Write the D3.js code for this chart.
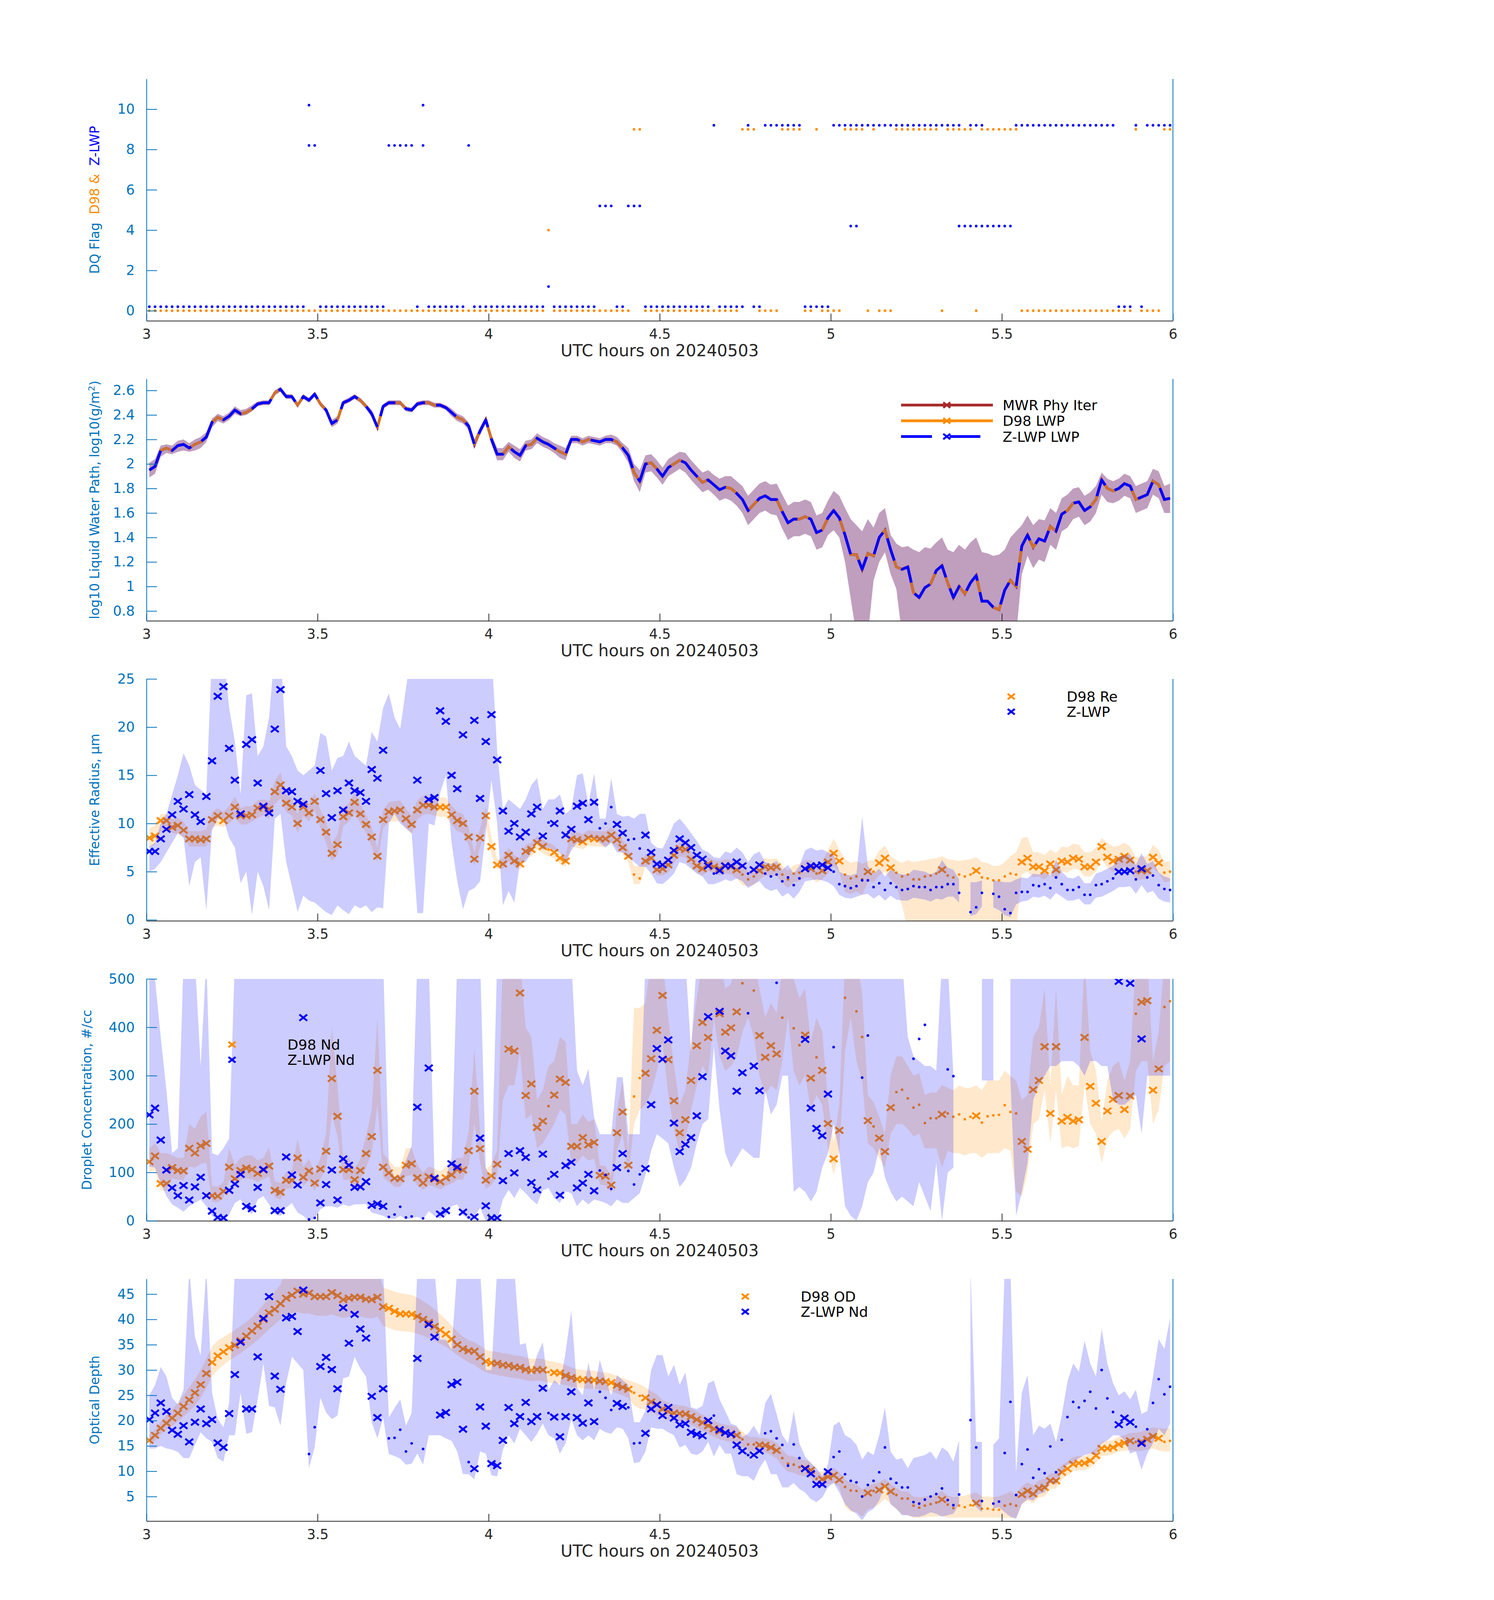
<!DOCTYPE html>
<html>
<head>
<meta charset="utf-8">
<script src="https://cdn.jsdelivr.net/npm/d3@7"></script>
<style>
  body { margin: 0; background: #fff; }
  svg { display: block; }
</style>
</head>
<body>
<svg id="fig"></svg>
<script>
// ---- one sample per minute, 03:00 - 06:00 UTC ----
const N = 180;
const hours = d3.range(N).map((i) => 3 + (i + 0.5) / 60);
const xTicks = [3, 3.5, 4, 4.5, 5, 5.5, 6];

// ---- panel 1: data quality flags ----
const d98Flag = [
  0,0,0,0,0,0,0,0,0,0, 0,0,0,0,0,0,0,0,0,0, 0,0,0,0,0,0,0,0,0,0,
  0,0,0,0,0,0,0,0,0,0, 0,0,0,0,0,0,0,0,0,0, 0,0,0,0,0,0,0,0,0,0,
  0,0,0,0,0,0,0,0,0,0, 4,0,0,0,0,0,0,0,0,0, 0,0,0,0,0,9,9,0,0,0,
  0,0,0,0,0,0,0,0,0,0, 0,0,0,0,9,9,9,0,0,0, 0,9,9,9,9,0,0,9,0,0,
  0,0,9,9,9,9,0,9,0,0, 0,9,9,9,9,9,9,9,9,0, 9,9,9,9,9,0,9,9,9,9,
  9,9,9,0,0,0,0,0,0,0, 0,0,0,0,0,0,0,0,0,0, 0,0,0,9,0,0,0,0,9,9
];
const zFlag = [
  0,0,0,0,0,0,0,0,0,0, 0,0,0,0,0,0,0,0,0,0, 0,0,0,0,0,0,0,0,10,8,
  0,0,0,0,0,0,0,0,0,0, 0,0,8,8,8,8,8,0,10,0, 0,0,0,0,0,0,8,0,0,0,
  0,0,0,0,0,0,0,0,0,0, 1,0,0,0,0,0,0,0,0,5, 5,5,0,0,5,5,5,0,0,0,
  0,0,0,0,0,0,0,0,0,9, 0,0,0,0,0,9,0,0,9,9, 9,9,9,9,9,0,0,0,0,0,
  9,9,9,4,4,9,9,9,9,9, 9,9,9,9,9,9,9,9,9,9, 9,9,4,4,4,4,4,4,4,4,
  4,4,9,9,9,9,9,9,9,9, 9,9,9,9,9,9,9,9,9,9, 0,0,0,9,0,9,9,9,9,9
];
const zExtraIdx = [28, 48, 123, 124, 142, 144, 145, 146];
const zExtraFlag = [8, 8, 9, 9, 9, 9, 9, 9];

// ---- panel 2: log10 LWP (the three retrievals coincide) ----
const lwp = [
  1.95,1.98,2.11,2.13,2.11,2.15,2.16,2.13,2.16,2.18, 2.22,2.34,2.38,2.36,2.39,2.44,2.41,2.42,2.45,2.49,
  2.50,2.50,2.58,2.61,2.55,2.55,2.48,2.55,2.52,2.57, 2.49,2.44,2.33,2.36,2.50,2.52,2.55,2.52,2.47,2.41,
  2.30,2.47,2.50,2.50,2.50,2.45,2.44,2.49,2.50,2.50, 2.48,2.48,2.46,2.42,2.38,2.36,2.31,2.16,2.27,2.36,
  2.20,2.08,2.08,2.14,2.10,2.07,2.15,2.16,2.21,2.18, 2.16,2.13,2.10,2.08,2.20,2.20,2.18,2.20,2.19,2.18,
  2.20,2.20,2.18,2.13,2.07,1.93,1.86,2.00,2.01,1.96, 1.90,1.97,2.00,2.03,2.01,1.95,1.90,1.85,1.87,1.83,
  1.79,1.81,1.80,1.76,1.71,1.62,1.67,1.72,1.74,1.71, 1.71,1.61,1.52,1.55,1.55,1.57,1.55,1.44,1.46,1.56,
  1.62,1.56,1.42,1.26,1.26,1.14,1.27,1.25,1.40,1.46, 1.30,1.16,1.14,1.16,0.95,0.91,0.99,1.02,1.13,1.17,
  1.03,0.91,1.00,0.94,1.03,1.09,0.88,0.88,0.83,0.81, 0.97,1.05,1.00,1.33,1.42,1.32,1.39,1.37,1.49,1.45,
  1.59,1.62,1.68,1.69,1.62,1.65,1.71,1.87,1.80,1.78, 1.80,1.84,1.82,1.71,1.73,1.75,1.86,1.83,1.71,1.72
];
const lwpLo = [
  1.89,1.92,2.06,2.09,2.08,2.10,2.11,2.10,2.11,2.13, 2.18,2.30,2.35,2.33,2.36,2.41,2.39,2.40,2.43,2.47,
  2.48,2.48,2.56,2.59,2.53,2.53,2.46,2.53,2.50,2.55, 2.47,2.42,2.30,2.33,2.48,2.50,2.53,2.50,2.45,2.38,
  2.27,2.45,2.48,2.48,2.48,2.43,2.42,2.47,2.48,2.48, 2.46,2.46,2.44,2.39,2.35,2.33,2.28,2.12,2.24,2.33,
  2.16,2.03,2.03,2.10,2.05,2.02,2.11,2.12,2.17,2.14, 2.12,2.09,2.05,2.03,2.17,2.17,2.15,2.17,2.16,2.15,
  2.17,2.17,2.15,2.09,2.01,1.86,1.77,1.93,1.94,1.89, 1.83,1.90,1.93,1.96,1.93,1.87,1.82,1.77,1.79,1.75,
  1.70,1.72,1.70,1.66,1.60,1.50,1.55,1.60,1.62,1.59, 1.58,1.47,1.38,1.41,1.41,1.43,1.41,1.30,1.32,1.42,
  1.46,1.40,1.20,0.90,0.60,0.60,0.60,1.05,1.20,1.28, 1.10,0.98,0.60,0.60,0.60,0.60,0.60,0.60,0.60,0.60,
  0.60,0.60,0.60,0.60,0.60,0.60,0.60,0.60,0.60,0.60, 0.60,0.60,0.60,1.10,1.25,1.15,1.22,1.20,1.34,1.30,
  1.45,1.48,1.55,1.57,1.50,1.53,1.60,1.75,1.69,1.68, 1.70,1.74,1.72,1.60,1.62,1.64,1.75,1.72,1.60,1.60
];
const lwpHi = [
  2.01,2.04,2.15,2.16,2.15,2.19,2.20,2.17,2.20,2.22, 2.26,2.37,2.41,2.39,2.42,2.47,2.44,2.45,2.48,2.51,
  2.52,2.52,2.60,2.63,2.57,2.57,2.50,2.57,2.54,2.59, 2.51,2.46,2.36,2.39,2.52,2.54,2.57,2.54,2.49,2.44,
  2.33,2.49,2.52,2.52,2.52,2.47,2.46,2.51,2.52,2.52, 2.50,2.50,2.48,2.45,2.41,2.39,2.34,2.20,2.30,2.39,
  2.24,2.13,2.13,2.18,2.15,2.12,2.19,2.20,2.25,2.22, 2.20,2.17,2.15,2.13,2.23,2.23,2.21,2.23,2.22,2.21,
  2.23,2.24,2.22,2.17,2.13,2.00,1.95,2.07,2.08,2.03, 1.97,2.04,2.07,2.10,2.09,2.03,1.98,1.93,1.95,1.91,
  1.88,1.90,1.90,1.86,1.82,1.74,1.79,1.84,1.86,1.83, 1.84,1.75,1.66,1.69,1.69,1.71,1.69,1.58,1.60,1.70,
  1.78,1.74,1.64,1.55,1.50,1.45,1.55,1.48,1.60,1.64, 1.42,1.35,1.32,1.33,1.30,1.28,1.32,1.31,1.36,1.40,
  1.30,1.28,1.34,1.30,1.36,1.40,1.28,1.27,1.25,1.26, 1.30,1.40,1.45,1.50,1.58,1.50,1.55,1.54,1.64,1.60,
  1.72,1.75,1.80,1.81,1.74,1.77,1.82,1.93,1.88,1.86, 1.88,1.92,1.90,1.82,1.84,1.86,1.96,1.94,1.82,1.84
];

// ---- panel 3: effective radius (um) ----
const reD98 = [
  8.5,8.7,10.3,10.3,9.6,9.8,9.3,8.4,8.4,8.3, 8.4,10.4,10.8,10.3,10.8,11.7,10.8,10.8,10.9,11.6,
  11.7,11.5,13.3,14.0,12.1,11.7,10.0,11.7,11.1,12.3, 10.4,9.1,6.9,7.8,10.7,11.1,12.2,11.0,9.9,8.6,
  6.6,10.4,11.2,11.3,11.4,10.5,9.9,11.4,11.9,11.9, 11.7,11.7,11.7,10.9,10.3,10.0,8.6,6.3,8.5,10.8,
  7.6,5.7,5.8,6.7,6.1,5.8,7.1,7.3,8.0,7.6, 7.3,7.0,6.4,6.1,8.4,8.3,8.1,8.5,8.4,8.4,
  8.4,8.8,8.3,7.5,6.6,4.7,4.3,6.1,6.4,5.2, 5.3,5.7,6.7,7.4,7.3,6.3,5.6,5.3,5.8,5.5,
  5.3,5.6,5.5,5.2,4.7,4.2,4.5,5.1,5.5,5.4, 5.5,4.7,4.2,4.8,4.9,5.3,5.3,4.8,5.1,6.0,
  6.9,6.1,4.7,4.3,4.5,4.2,5.0,5.0,5.9,6.4, 5.4,4.9,4.5,4.7,4.2,4.2,4.5,4.6,4.8,5.2,
  4.6,4.4,4.7,4.5,4.7,5.1,4.4,4.3,4.1,4.1, 4.5,4.8,4.7,6.0,6.4,5.5,5.5,5.1,5.8,5.2,
  6.1,6.0,6.4,6.3,5.5,5.5,6.0,7.6,6.5,6.1, 6.3,6.6,6.2,5.0,5.1,5.1,6.5,5.9,4.9,5.0
];
const reZ = [
  7.1,7.1,8.4,9.4,10.9,12.3,11.5,13.0,10.9,10.2, 12.8,16.5,23.2,24.2,17.8,14.5,11.0,18.2,18.7,14.2,
  11.8,11.1,19.8,23.9,13.4,13.3,12.3,12.0,null,null, 15.5,13.1,10.6,13.4,11.4,14.2,13.4,13.2,12.3,15.6,
  14.7,17.6,null,null,null,null,null,14.5,null,12.5, 12.7,21.7,20.6,15.0,13.6,19.2,null,20.7,12.6,18.5,
  21.3,16.6,11.3,9.2,10.0,8.6,9.1,11.0,11.7,8.7, 10.1,10.0,11.3,8.8,9.4,11.8,12.1,10.4,12.2,9.5,
  10.0,11.7,9.9,9.0,8.3,8.4,7.4,8.8,7.0,5.8, 5.7,6.2,7.2,8.4,8.0,7.5,6.7,6.3,5.6,4.8,
  5.1,5.6,5.6,6.0,5.6,4.8,5.2,5.7,4.8,4.5, 4.7,4.0,4.4,3.6,4.3,5.3,5.6,5.6,5.7,5.4,
  5.0,3.7,3.5,3.3,3.5,4.1,4.1,3.4,3.8,3.1, 3.8,3.4,3.1,3.2,3.5,3.4,3.4,3.1,3.4,3.4,
  3.7,3.7,2.8,null,0.8,1.3,2.8,null,2.7,2.4, 1.1,0.7,2.8,2.9,2.9,3.6,3.5,3.7,3.3,4.4,
  3.7,3.1,3.1,3.4,2.6,2.6,3.6,3.7,4.0,4.3, 5.0,5.0,5.1,4.2,5.3,4.4,4.6,3.6,3.2,3.1
];
const reD98Lo = [
  7.5,7.8,9.2,9.5,9.0,8.9,8.6,7.6,7.6,7.6, 7.6,9.6,9.8,9.6,10.0,10.6,9.9,9.9,10.2,10.6,
  10.8,10.5,12.0,12.6,11.2,10.8,9.0,10.8,10.2,11.4, 9.5,8.0,6.1,6.8,9.7,10.2,11.2,10.0,9.0,7.6,
  6.0,9.5,10.2,10.2,10.3,9.5,8.9,10.4,10.9,11.0, 10.8,10.7,10.7,9.9,9.2,9.0,7.7,5.6,7.5,9.8,
  6.8,5.3,5.3,6.1,5.6,5.2,6.4,6.6,7.3,6.9, 6.6,6.4,5.8,5.5,7.6,7.5,7.3,7.7,7.6,7.6,
  7.6,8.0,7.5,6.8,6.0,3.7,3.7,5.5,5.8,4.6, 4.6,4.9,5.9,6.6,6.5,5.6,4.9,4.6,5.1,4.8,
  4.6,4.8,4.7,4.3,3.6,3.5,3.6,4.2,4.6,4.5, 4.6,3.8,3.3,3.9,4.0,4.4,4.4,3.9,4.2,4.8,
  5.6,4.9,2.9,2.7,2.9,2.6,3.9,3.9,4.6,5.0, 4.2,3.6,1.5,-1,-1,-1,-1,-1,-1,-1,
  -1,-1,-1,-1,-1,-1,-1,-1,-1,-1, -1,-1,-1,4.7,5.0,4.4,4.5,4.2,4.7,4.2,
  5.0,4.9,5.3,5.2,4.5,4.5,5.0,6.3,5.4,5.0, 5.2,5.5,5.1,4.1,4.2,4.2,5.4,4.8,3.9,4.0
];
const reD98Hi = [
  9.5,9.8,11.0,11.0,10.4,10.6,10.2,9.2,9.2,9.2, 9.4,11.2,11.6,11.2,11.8,12.8,11.6,11.8,11.8,12.4,
  12.5,12.3,14.4,15.3,13.0,12.6,11.0,12.6,12.0,13.2, 11.4,10.2,7.9,8.9,11.7,12.1,13.2,12.0,10.9,9.6,
  7.4,11.4,12.2,12.3,12.4,11.5,10.9,12.4,12.9,12.9, 12.8,12.7,12.7,11.9,11.2,11.0,9.6,7.0,9.5,11.8,
  8.6,6.3,6.4,7.5,6.7,6.4,7.8,8.0,8.7,8.3, 8.0,7.7,7.0,6.7,9.2,9.1,8.9,9.3,9.2,9.2,
  9.2,9.6,9.1,8.3,7.3,5.6,5.6,6.8,7.0,5.8, 6.0,6.6,7.4,8.2,8.1,7.0,6.3,6.0,6.5,6.2,
  6.1,6.3,6.2,6.1,5.8,5.0,5.4,6.0,6.4,6.3, 6.4,5.6,5.1,5.7,5.8,6.2,6.2,5.7,6.0,7.2,
  8.4,7.3,6.3,5.9,6.1,5.8,6.1,6.2,7.2,7.7, 6.6,6.2,5.9,6.2,6.0,6.1,6.2,6.3,6.4,6.6,
  6.3,6.2,6.1,6.2,6.3,6.5,6.0,5.9,5.6,5.6, 6.0,6.6,7.0,8.5,8.6,7.0,7.0,6.7,7.3,6.9,
  7.6,7.5,7.9,7.8,7.0,7.0,7.5,8.5,8.0,7.6, 7.7,8.0,7.6,6.5,6.6,6.6,7.8,7.2,6.0,6.1
];
const reZLo = [
  5.0,5.3,6.0,7.0,8.0,9.0,8.5,3.5,6.0,6.5, 1.0,9.3,10.5,10.5,8.5,7.5,3.8,5.0,0.5,5.0,
  3.5,1.0,10.5,11.0,6.0,3.5,0.8,2.5,2.0,1.8, 1.3,0.8,0.5,1.5,1.0,0.6,1.5,1.2,1.5,0.8,
  1.3,1.2,10.0,11.0,10.0,9.5,9.0,0.7,0.7,10.0, 9.8,13.2,15.0,8.0,4.0,1.1,3.0,3.3,4.0,9.0,
  14.5,10.0,1.5,3.0,1.8,6.0,6.0,7.0,8.0,7.3, 7.5,7.2,7.0,6.0,7.2,8.0,8.0,8.5,8.5,8.0,
  7.5,8.0,7.0,7.0,6.5,6.0,5.5,5.5,4.8,3.8, 3.7,4.2,4.8,6.0,5.8,5.3,4.8,4.5,3.7,3.7,
  3.9,4.2,4.0,4.3,4.0,3.3,3.7,4.0,3.3,3.0, 3.2,2.4,2.8,2.2,2.9,4.0,4.1,4.2,4.1,3.9,
  3.5,2.6,2.3,2.2,2.4,2.6,2.7,2.2,2.6,2.0, 2.5,2.1,2.0,2.0,2.3,2.2,2.1,1.9,2.2,2.1,
  2.4,2.4,1.8,null,0.4,0.6,1.4,null,1.3,1.0, 0.5,0.3,1.6,1.9,2.0,2.4,2.3,2.5,2.1,2.8,
  2.4,2.0,2.0,2.2,1.6,1.6,2.3,2.4,2.7,3.0, 3.4,3.4,3.5,2.7,3.6,2.8,3.0,2.2,1.9,1.8
];
const reZHi = [
  7.6,8.0,10.0,11.0,13.0,15.0,17.3,16.0,14.0,13.5, 13.0,28,28,28,22.0,18.5,13.0,23.3,23.5,17.0,
  18.0,21.0,28,28,18.0,17.0,15.5,15.0,15.5,16.0, 19.4,19.0,15.5,16.8,17.0,18.5,17.0,16.5,16.0,19.5,
  18.5,22.0,23.5,21.0,19.8,24.0,28,28,28,28, 28,28,28,28,27.5,25.0,28,28,28,28,
  28,17.5,11.5,12.5,12.0,11.5,12.5,14.0,14.7,11.5, 12.5,12.5,13.0,11.0,11.5,15.0,15.2,12.0,15.2,10.5,
  10.5,14.7,11.0,10.7,10.8,10.5,11.0,11.0,8.0,7.5, 7.4,8.6,10.0,10.5,9.8,9.0,8.2,7.3,7.0,6.5,
  6.4,7.1,6.9,7.5,7.0,6.0,6.8,7.1,6.0,5.8, 6.1,5.2,5.7,4.8,5.6,7.2,7.5,7.2,7.3,7.0,
  6.8,5.0,4.7,4.6,4.8,10.7,5.6,4.8,5.3,4.5, 5.2,4.9,4.7,4.7,5.2,5.1,5.0,4.7,5.0,6.2,
  5.4,5.2,4.2,null,3.9,3.9,4.1,null,4.1,4.0, 3.9,3.9,4.2,4.4,4.3,4.8,4.7,4.9,4.6,6.2,
  5.0,4.4,4.3,4.6,3.8,3.8,4.8,5.0,5.3,5.6, 6.6,6.7,6.8,5.7,6.9,5.8,6.1,4.9,4.5,4.3
];

// ---- panel 4: droplet concentration (#/cc) ----
const ndD98 = [
  122,134,77,77,110,104,103,150,140,155, 160,52,51,61,111,87,104,109,106,98,
  105,113,63,59,84,84,130,90,103,78, 107,144,294,216,106,106,85,104,139,174,
  311,111,99,88,87,115,118,89,78,91, 86,81,89,95,106,105,145,268,149,84,
  93,117,null,355,351,471,259,283,193,206, 237,260,293,286,154,154,172,157,162,94,
  92,74,182,225,115,257,295,305,335,394, 466,333,248,182,209,290,362,410,379,null,
  428,390,399,432,491,null,476,383,338,362, 345,420,null,398,363,384,295,338,311,201,
  128,187,461,null,433,380,207,195,171,143, 234,266,271,253,234,240,202,212,212,220,
  222,215,220,210,215,217,203,216,218,219, 239,225,222,164,148,271,290,360,222,360,
  206,214,206,209,379,278,243,164,227,251, 259,230,258,428,452,455,270,314,442,454
];
const ndZ = [
  219,233,167,105,68,52,73,43,70,90, 52,20,7,6,63,76,96,30,25,69,
  106,null,21,21,132,95,74,420,3,6, 37,75,105,43,128,115,69,70,81,32,
  35,30,8,13,29,7,9,235,5,316, 88,14,21,118,111,18,7,8,171,31,
  6,6,83,139,99,145,131,79,64,138, 87,96,53,114,121,68,78,96,62,104,
  95,66,110,139,103,75,96,108,240,356, 334,374,202,143,158,172,217,298,422,null,
  433,351,341,268,306,429,320,269,null,null, 492,null,null,null,null,375,233,191,176,262,
  359,null,null,null,null,296,383,null,null,null, null,null,null,null,335,376,405,null,null,null,
  313,299,null,null,null,null,null,null,null,null, null,null,null,null,null,null,null,null,null,null,
  null,null,null,null,null,null,null,null,null,null, 495,null,491,null,376,null,null,null,null,null
];
const ndD98Lo = [
  100,105,62,62,88,85,84,112,110,118, 120,40,38,48,85,70,85,88,86,80,
  86,92,48,44,66,68,100,72,84,62, 86,110,220,175,85,85,68,84,110,140,
  240,90,80,70,70,92,95,72,64,74, 70,65,72,77,85,85,115,200,120,66,
  74,95,250,280,280,350,210,220,150,160, 180,200,230,220,120,120,135,125,128,75,
  73,58,145,180,92,200,230,240,265,310, 370,260,190,140,165,230,280,320,300,420,
  340,310,320,340,390,420,380,300,260,280, 270,330,420,310,280,300,230,260,240,150,
  95,145,350,420,330,290,160,150,130,110, 180,200,200,190,175,180,150,150,150,110,
  145,140,140,135,140,140,130,140,140,140, 150,145,60,50,100,200,210,270,160,270,
  150,155,150,155,280,200,180,120,170,185, 190,170,190,310,330,330,200,230,320,330
];
const ndD98Hi = [
  150,160,140,140,135,130,130,200,190,215, 226,72,70,80,150,115,130,135,135,125,
  130,152,82,78,102,105,170,112,128,98, 130,180,400,280,130,130,108,128,175,230,
  420,140,125,112,110,150,150,115,100,112, 108,102,112,120,130,130,185,355,185,106,
  116,145,540,540,540,540,400,380,250,270, 320,330,380,370,200,200,220,205,210,115,
  113,92,230,290,140,440,440,450,540,540, 540,420,320,240,270,370,460,540,500,540,
  540,480,490,540,540,540,540,480,420,450, 430,520,540,500,460,480,370,420,390,250,
  160,240,540,540,540,470,260,245,215,180, 300,340,340,320,300,305,260,265,265,280,
  275,270,280,275,275,280,270,290,290,290, 310,300,290,250,260,380,400,480,280,480,
  260,300,280,280,540,350,310,205,290,320, 330,290,330,540,540,540,330,390,540,540
];
const ndZLo = [
  112,110,78,51,34,27,19,30,37,44, 30,10,0,0,13,37,44,24,14,44,
  51,34,14,10,27,37,17,10,0,3, 24,30,30,27,34,30,34,34,35,17,
  14,10,5,4,10,3,5,8,3,20, 10,5,10,30,34,12,3,8,27,0,
  0,0,44,64,47,68,57,44,34,63, 68,47,37,61,57,30,44,34,44,41,
  37,30,44,37,37,47,57,95,145,179, 170,160,110,70,85,110,160,200,210,360,
  230,140,110,130,150,140,130,130,270,220, 240,300,300,60,70,60,40,60,110,140,
  200,140,30,10,0,30,80,100,150,90, 60,40,50,40,30,80,50,20,120,0,
  100,110,null,null,300,null,290,290,290,null, null,290,10,60,120,250,280,300,320,320,
  330,330,330,320,300,330,330,320,320,250, 240,240,250,260,180,300,300,300,300,300
];
const ndZHi = [
  540,500,380,270,140,150,540,540,540,320, 540,140,135,150,170,540,540,540,540,540,
  540,540,540,540,540,540,540,540,540,540, 540,540,540,540,540,540,540,540,540,540,
  540,540,118,90,95,125,155,540,540,540, 95,85,90,130,540,540,540,540,540,110,
  85,540,540,540,540,540,540,540,540,540, 540,540,540,540,540,310,280,314,213,179,
  179,179,297,297,179,179,179,540,540,540, 540,540,540,540,540,350,540,540,540,540,
  540,540,540,540,540,540,540,540,540,540, 540,540,540,540,540,540,540,540,540,540,
  540,540,540,540,540,540,540,540,540,540, 540,540,540,380,340,330,320,320,310,540,
  540,300,null,null,540,null,540,540,540,null, null,540,540,540,540,540,540,540,540,540,
  540,540,540,540,540,540,540,540,540,540, 540,540,540,540,540,540,540,540,540,540
];

// ---- panel 5: optical depth ----
const odD98 = [
  16.1,17.1,18.5,19.5,20.5,21.5,22.8,24.1,25.5,27.1, 29.3,31.5,32.8,33.6,34.4,34.9,35.8,36.7,37.7,38.7,
  40.0,41.3,42.0,43.1,44.2,44.8,45.6,45.0,45.2,44.5, 44.5,44.5,45.3,44.7,43.9,44.2,44.4,44.4,44.0,43.9,
  44.4,42.5,42.2,41.6,41.1,41.1,41.0,40.6,40.0,39.4, 38.6,37.9,37.1,36.1,35.0,34.2,33.8,33.7,32.6,31.7,
  31.4,31.3,31.0,30.9,30.6,30.5,30.1,29.9,30.1,30.0, 29.6,29.5,29.4,28.9,28.5,28.2,28.1,28.0,28.0,27.8,
  27.7,27.5,27.0,26.6,26.2,25.5,24.9,24.5,23.7,23.2, 22.3,21.8,21.5,21.4,21.3,20.8,20.2,19.6,19.0,18.4,
  17.9,17.6,17.4,17.1,16.3,15.3,15.3,15.2,15.1,14.7, 14.1,12.6,11.5,11.3,10.8,10.6,10.2,8.5,8.4,8.9,
  9.2,8.3,6.9,6.2,6.1,5.0,5.7,6.1,6.3,7.0, 6.0,5.3,4.6,4.6,3.2,2.8,3.2,3.5,3.8,4.4,
  3.4,2.7,3.2,2.9,3.3,3.7,2.6,2.6,2.4,2.4, 3.2,3.5,3.2,5.4,6.1,5.5,6.6,6.8,8.1,8.1,
  9.8,10.5,11.4,11.6,11.6,12.1,13.1,14.5,14.5,14.7, 15.3,15.6,16.0,15.8,15.8,16.3,16.9,16.5,15.8,16.0
];
const odZ = [
  20.2,21.5,23.5,21.8,18.1,17.3,19.0,15.8,19.7,22.3, 19.4,20.2,15.6,14.7,21.4,29.1,35.5,22.3,22.3,32.6,
  40.2,44.5,28.8,26.2,40.3,40.6,37.6,45.8,13.4,18.7, 30.7,32.5,30.1,26.3,42.3,35.3,41.0,38.1,36.3,24.8,
  20.6,26.3,16.5,16.6,18.2,13.9,15.5,32.3,14.4,39.0, 36.5,21.1,21.6,27.1,27.6,18.3,11.8,10.5,22.7,18.9,
  11.5,11.1,16.1,22.6,19.4,20.8,23.6,19.8,20.8,26.4, 21.5,20.7,16.8,20.8,25.7,20.6,19.5,23.5,19.8,25.7,
  24.5,22.1,23.4,22.8,22.6,15.5,15.6,17.5,22.3,23.1, 21.0,22.6,20.5,19.2,19.4,17.7,17.3,17.0,20.0,21.0,
  18.2,17.6,17.3,15.2,14.0,13.2,13.2,14.0,17.5,17.9, 16.5,15.2,11.1,15.3,12.6,10.5,9.5,7.4,7.4,9.9,
  12.8,13.9,9.4,8.1,7.8,5.0,7.3,8.1,9.8,14.7, 8.5,7.7,6.8,6.8,3.9,3.6,4.4,5.0,5.5,6.6,
  4.3,3.3,5.4,null,20.1,14.7,4.1,null,3.6,4.0, 13.6,23.7,5.3,11.4,14.3,8.7,10.4,9.6,14.9,9.8,
  16.2,20.7,23.7,22.6,23.9,25.7,22.4,30.0,24.4,21.7, 19.2,20.5,19.7,18.8,15.5,18.3,23.5,28.2,25.2,26.7
];
const odD98Lo = [
  15.2,16.0,17.3,18.2,19.0,19.8,20.8,21.8,23.0,24.5, 26.5,28.8,30.0,31.0,31.9,32.6,33.3,34.2,35.0,35.9,
  37.0,38.1,39.0,40.0,40.8,41.2,41.4,41.2,41.2,40.8, 40.7,40.7,41.0,40.6,40.3,40.5,40.6,40.6,40.3,40.2,
  40.6,38.7,38.3,37.9,37.7,37.6,37.5,37.2,36.8,36.3, 35.8,35.2,34.6,33.8,33.0,32.2,31.5,31.0,30.2,29.6,
  29.2,29.0,28.8,28.6,28.4,28.3,28.0,27.8,27.9,27.8, 27.5,27.4,27.3,27.0,26.7,26.5,26.4,26.3,26.3,26.1,
  26.0,25.8,25.4,25.0,24.5,23.0,22.4,22.2,21.6,21.2, 20.5,20.1,19.9,19.8,19.7,19.2,18.6,18.0,17.4,16.8,
  16.3,16.0,15.8,15.5,14.7,13.9,13.9,13.8,13.7,13.2, 12.5,11.0,9.9,9.7,9.2,9.0,8.6,7.0,6.9,7.4,
  7.7,6.8,3.0,2.0,2.0,1.0,2.5,2.8,3.5,4.6, 3.5,2.5,1.5,1.3,0.8,0.8,0.9,1.0,1.0,1.2,
  0.8,0.8,0.8,0.8,0.8,0.8,0.8,0.8,0.8,0.8, 0.8,0.8,0.8,3.5,4.2,3.7,4.8,5.0,6.5,6.6,
  8.4,9.1,10.0,10.2,10.2,10.7,11.7,13.0,13.1,13.4, 13.9,14.0,14.2,14.0,14.0,14.3,14.5,14.1,13.9,13.9
];
const odD98Hi = [
  17.1,18.2,19.8,21.0,22.2,23.5,25.0,26.6,28.2,30.0, 32.3,34.6,35.8,36.5,37.2,37.9,38.7,39.5,40.4,41.6,
  42.9,44.3,45.5,46.8,50,50,50,50,50,50, 50,50,50,50,50,50,50,50,50,50,
  50,46.3,45.9,45.5,45.2,45.0,44.8,44.3,43.6,42.9, 42.0,41.0,40.0,38.8,37.6,36.6,35.9,35.5,34.8,34.0,
  33.7,33.6,33.3,33.2,32.9,32.8,32.5,32.2,32.3,32.2, 31.8,31.6,31.4,31.0,30.5,30.2,30.0,29.9,29.9,29.6,
  29.5,29.3,28.8,28.4,28.0,27.6,27.2,26.6,25.8,25.2, 24.0,23.5,23.2,23.0,22.9,22.4,21.8,21.2,20.6,20.0,
  19.5,19.2,19.0,18.7,17.9,16.8,16.8,16.6,16.5,16.2, 15.6,14.2,13.1,12.9,12.4,12.2,11.8,10.0,9.9,10.4,
  10.7,9.8,8.4,7.6,7.5,6.4,7.1,7.5,7.8,8.5, 7.5,6.7,6.0,6.0,5.0,4.8,5.0,5.2,5.5,6.1,
  5.2,4.9,5.0,5.2,5.5,5.8,5.0,5.0,4.9,5.0, 5.5,6.0,5.4,7.0,7.8,7.2,8.2,8.5,9.6,9.6,
  11.2,11.9,12.8,13.0,13.0,13.5,14.5,15.9,16.0,16.2, 16.8,17.1,17.6,17.6,17.8,18.3,18.7,18.5,18.4,18.6
];
const odZLo = [
  14.5,14.5,15.0,14.5,14.3,13.8,12.6,12.6,15.2,17.7, 16.5,15.8,12.6,11.9,17.1,17.1,25.5,17.4,17.7,24.2,
  31.3,22.9,22.6,19.0,27.4,32.6,31.3,30.0,10.6,14.8, 24.5,21.6,20.3,21.0,28.4,28.7,32.6,30.3,28.7,19.7,
  16.5,20.6,13.4,13.0,12.5,11.3,11.5,13.5,11.3,17.1, 17.1,17.1,16.5,16.0,13.9,9.4,9.4,8.4,13.9,13.5,
  9.2,9.0,14.2,17.1,15.5,18.4,17.1,15.8,17.4,19.4, 17.1,16.5,13.5,15.5,20.3,17.1,16.1,17.1,16.1,18.4,
  17.7,17.4,18.7,18.4,16.5,11.6,11.8,13.9,18.7,18.4, 18.4,17.7,17.1,14.7,15.2,13.5,13.2,13.9,15.8,12.9,
  15.2,13.5,13.5,9.4,9.0,9.0,8.1,10.6,12.3,9.4, 9.4,6.8,6.8,7.7,6.5,5.8,4.5,3.9,4.8,6.8,
  7.7,5.8,3.5,2.3,1.6,0.3,1.9,2.6,4.2,7.4, 3.5,2.6,1.3,1.3,1.0,1.0,1.3,1.9,1.6,1.0,
  1.3,1.6,3.5,null,4.8,2.9,1.9,null,2.6,2.9, 1.9,1.0,0.6,3.5,4.5,4.2,5.5,5.8,7.7,7.4,
  9.7,11.3,11.6,12.6,13.2,13.5,13.2,15.5,16.1,17.1, 17.1,16.1,13.5,13.9,10.3,13.5,15.5,18.4,17.1,19.4
];
const odZHi = [
  25.0,27.0,30.6,28.7,24.5,23.2,26.1,50,36.5,32.9, 50,25.5,20.3,18.7,23.5,50,50,50,50,50,
  50,50,50,50,50,50,50,50,50,50, 50,50,50,50,50,50,50,50,50,50,
  50,50,20.6,22.5,24.2,19.0,21.5,50,50,50, 50,36.0,36.0,34.0,50,50,50,50,50,30.0,
  30.0,50,50,50,50,35.0,35.3,29.0,33.0,35.5, 26.0,28.0,27.0,33.5,41.8,26.5,25.0,31.5,26.0,32.0,
  28.0,25.0,29.0,28.0,27.0,19.7,19.7,22.0,30.0,33.0, 32.9,28.7,31.0,27.1,29.5,22.6,22.3,22.9,27.4,27.9,
  24.2,21.9,19.4,19.0,16.8,17.4,19.0,17.1,23.5,25.3, 21.3,17.1,15.5,21.9,15.5,12.9,11.6,10.6,9.0,11.3,
  19.0,19.8,17.1,16.5,15.2,12.3,13.9,13.2,17.1,22.6, 13.9,12.3,12.6,10.6,12.6,12.9,13.2,13.9,12.3,14.7,
  13.9,11.9,16.1,null,50,15.8,15.8,null,15.2,16.5, 50,50,9.7,25.5,29.0,17.1,19.0,18.4,19.4,15.8,
  21.0,27.7,31.3,29.7,35.8,31.3,28.7,38.2,31.3,27.4, 25.0,25.8,24.2,26.1,21.3,21.9,28.7,36.1,34.2,40.3
];

// ---------------------------------------------------------------
// The photographed area stops at 4096 px, so the figure's vertical
// layout (designed on a 6000 px page) is compressed to fit it.
const W = 3825;
const H = 4096;
const SY = H / 6000;
const sy = (v) => v * SY;

const FONT = "DejaVu Sans";
const AXC = "#0072BD";
const TXT = "#262626";
const ORANGE = "#FF8C00";
const BLUE = "#0000FF";
const BROWN = "#A52A2A";
const FS_TICK = 35, FS_XLAB = 42, FS_YLAB = 33, FS_LEG = 36;
const X0 = 375, X1 = 3003;

const svg = d3.select("#fig").attr("width", W).attr("height", H).attr("font-family", FONT);
svg.append("rect").attr("width", W).attr("height", H).attr("fill", "#fff");

const x = d3.scaleLinear().domain([3, 6]).range([X0, X1]);

function makePanel(id, top, bottom, yDomain) {
  const g = svg.append("g").attr("id", id);
  const y = d3.scaleLinear().domain(yDomain).range([bottom, top]);
  g.append("clipPath")
    .attr("id", id + "-clip")
    .append("rect")
    .attr("x", X0)
    .attr("y", top)
    .attr("width", X1 - X0)
    .attr("height", bottom - top);
  const plot = g.append("g").attr("clip-path", `url(#${id}-clip)`);
  return { id, g, plot, y, top, bottom };
}

function drawAxes(p, yTicks, yFormat) {
  const xa = p.g
    .append("g")
    .attr("transform", `translate(0,${p.bottom})`)
    .call(
      d3.axisBottom(x).tickValues(xTicks).tickSize(-sy(27)).tickSizeOuter(0)
        .tickPadding(21).tickFormat(d3.format("~g"))
    )
    .attr("font-family", FONT)
    .attr("font-size", FS_TICK)
    .attr("color", TXT);
  xa.selectAll("line,path").attr("stroke-width", 2);

  const ya = p.g
    .append("g")
    .attr("transform", `translate(${X0},0)`)
    .call(
      d3.axisLeft(p.y).tickValues(yTicks).tickSize(-27).tickSizeOuter(0)
        .tickPadding(30).tickFormat(yFormat)
    )
    .attr("font-family", FONT)
    .attr("font-size", FS_TICK)
    .attr("color", AXC);
  ya.selectAll("line,path").attr("stroke-width", 2);

  p.g
    .append("line")
    .attr("x1", X1).attr("x2", X1)
    .attr("y1", p.top).attr("y2", p.bottom)
    .attr("stroke", AXC)
    .attr("stroke-width", 2);

  p.g
    .append("text")
    .attr("x", (X0 + X1) / 2)
    .attr("y", p.bottom + sy(133))
    .attr("text-anchor", "middle")
    .attr("font-size", FS_XLAB)
    .attr("fill", TXT)
    .text("UTC hours on 20240503");
}

function yLabel(p, xPos) {
  return p.g
    .append("text")
    .attr("transform", `translate(${xPos},${(p.top + p.bottom) / 2}) rotate(-90)`)
    .attr("text-anchor", "middle")
    .attr("font-size", FS_YLAB)
    .attr("fill", AXC)
    .style("white-space", "pre");
}

function crossPath(cx, cy, rx, ry) {
  return `M${cx - rx},${cy - ry}L${cx + rx},${cy + ry}M${cx - rx},${cy + ry}L${cx + rx},${cy - ry}`;
}

// flag 0 -> bold x, any other flag -> small dot
function scatter(p, vals, flags, color) {
  const pts = vals
    .map((v, i) => ({ i, v, f: flags[i] }))
    .filter((d) => d.v !== null);
  p.plot
    .append("g")
    .selectAll("path")
    .data(pts.filter((d) => d.f === 0))
    .join("path")
    .attr("d", (d) => crossPath(x(hours[d.i]), p.y(d.v), 10, 8))
    .attr("fill", "none")
    .attr("stroke", color)
    .attr("stroke-width", 5);
  p.plot
    .append("g")
    .selectAll("circle")
    .data(pts.filter((d) => d.f !== 0))
    .join("circle")
    .attr("cx", (d) => x(hours[d.i]))
    .attr("cy", (d) => p.y(d.v))
    .attr("r", 3.4)
    .attr("fill", color);
}

function band(p, lo, hi, fill, opacity) {
  const area = d3
    .area()
    .defined((d, i) => lo[i] !== null && hi[i] !== null)
    .x((d) => x(d))
    .y0((d, i) => p.y(lo[i]))
    .y1((d, i) => p.y(hi[i]));
  p.plot
    .append("path")
    .datum(hours)
    .attr("d", area)
    .attr("fill", fill)
    .attr("fill-opacity", opacity);
}

function markerLegend(p, lx, ly, tx, labels) {
  const colors = [ORANGE, BLUE];
  labels.forEach((lab, k) => {
    const yy = ly + k * sy(57);
    p.g
      .append("path")
      .attr("d", crossPath(lx, yy, 9, 7))
      .attr("fill", "none")
      .attr("stroke", colors[k])
      .attr("stroke-width", 5);
    p.g
      .append("text")
      .attr("x", tx)
      .attr("y", yy + 13)
      .attr("font-size", FS_LEG)
      .attr("fill", "#000")
      .text(lab);
  });
}

// ---- panel 1 ----
const p1 = makePanel("flags", sy(296), sy(1203), [-0.5, 11.5]);
p1.plot
  .append("g")
  .selectAll("circle")
  .data(d98Flag)
  .join("circle")
  .attr("cx", (d, i) => x(hours[i]))
  .attr("cy", (d) => p1.y(d))
  .attr("r", 3.4)
  .attr("fill", ORANGE);
const zPts = zFlag
  .map((f, i) => ({ i, f }))
  .concat(zExtraIdx.map((i, k) => ({ i, f: zExtraFlag[k] })));
p1.plot
  .append("g")
  .selectAll("circle")
  .data(zPts)
  .join("circle")
  .attr("cx", (d) => x(hours[d.i]))
  .attr("cy", (d) => p1.y(d.f + 0.2))
  .attr("r", 3.4)
  .attr("fill", BLUE);
drawAxes(p1, [0, 2, 4, 6, 8, 10], d3.format("d"));
const l1 = yLabel(p1, 254);
l1.append("tspan").attr("fill", AXC).text("DQ Flag  ");
l1.append("tspan").attr("fill", ORANGE).text("D98 &  ");
l1.append("tspan").attr("fill", BLUE).text("Z-LWP");

// ---- panel 2 ----
const p2 = makePanel("lwp", sy(1421), sy(2328), [0.72, 2.694]);
band(p2, lwpLo, lwpHi, "rgb(240,198,174)", 1);
const lwpLine = d3
  .line()
  .x((d, i) => x(hours[i]))
  .y((d) => p2.y(d));
p2.plot.append("path").datum(lwp).attr("d", lwpLine)
  .attr("fill", "none").attr("stroke", BROWN).attr("stroke-width", 7);
p2.plot.append("path").datum(lwp).attr("d", lwpLine)
  .attr("fill", "none").attr("stroke", ORANGE).attr("stroke-width", 7)
  .attr("stroke-linejoin", "round");
p2.plot.append("path").datum(lwp).attr("d", lwpLine)
  .attr("fill", "none").attr("stroke", BLUE).attr("stroke-width", 7)
  .attr("stroke-dasharray", "60,30").attr("stroke-linejoin", "round");
band(p2, lwpLo, lwpHi, BLUE, 0.2);
drawAxes(p2, [0.8, 1, 1.2, 1.4, 1.6, 1.8, 2, 2.2, 2.4, 2.6], (d) => String(+d.toFixed(1)));
const l2 = yLabel(p2, 254).text("log10 Liquid Water Path, log10(g/m");
l2.append("tspan").attr("font-size", 22).attr("dy", -12).text("2");
l2.append("tspan").attr("dy", 12).text(")");

const lwpLegend = [
  { label: "MWR Phy Iter", color: BROWN, dash: null },
  { label: "D98 LWP", color: ORANGE, dash: null },
  { label: "Z-LWP LWP", color: BLUE, dash: "79,45" },
];
lwpLegend.forEach((d, k) => {
  const yy = sy(1519) + k * sy(59);
  p2.g.append("line")
    .attr("x1", 2307).attr("x2", 2542).attr("y1", yy).attr("y2", yy)
    .attr("stroke", d.color).attr("stroke-width", 7)
    .attr("stroke-dasharray", d.dash);
  p2.g.append("path")
    .attr("d", crossPath(2424, yy, 9, 7))
    .attr("fill", "none").attr("stroke", d.color).attr("stroke-width", 5);
  p2.g.append("text")
    .attr("x", 2567).attr("y", yy + 13)
    .attr("font-size", FS_LEG).attr("fill", "#000")
    .text(d.label);
});

// ---- panel 3 ----
const p3 = makePanel("re", sy(2546), sy(3453), [-0.1, 25]);
band(p3, reD98Lo, reD98Hi, ORANGE, 0.2);
scatter(p3, reD98, d98Flag, ORANGE);
scatter(p3, reZ, zFlag, BLUE);
band(p3, reZLo, reZHi, BLUE, 0.2);
drawAxes(p3, [0, 5, 10, 15, 20, 25], d3.format("d"));
yLabel(p3, 254).text("Effective Radius, \u03BCm");
markerLegend(p3, 2589, sy(2612), 2731, ["D98 Re", "Z-LWP"]);

// ---- panel 4 ----
const p4 = makePanel("nd", sy(3671), sy(4578), [0, 500]);
band(p4, ndD98Lo, ndD98Hi, ORANGE, 0.2);
scatter(p4, ndD98, d98Flag, ORANGE);
scatter(p4, ndZ, zFlag, BLUE);
band(p4, ndZLo, ndZHi, BLUE, 0.2);
drawAxes(p4, [0, 100, 200, 300, 400, 500], d3.format("d"));
yLabel(p4, 234).text("Droplet Concentration, #/cc");
markerLegend(p4, 594, sy(3917), 736, ["D98 Nd", "Z-LWP Nd"]);

// ---- panel 5 ----
const p5 = makePanel("od", sy(4796), sy(5704), [0.15, 48]);
band(p5, odD98Lo, odD98Hi, ORANGE, 0.2);
scatter(p5, odD98, d98Flag, ORANGE);
scatter(p5, odZ, zFlag, BLUE);
band(p5, odZLo, odZHi, BLUE, 0.2);
drawAxes(p5, [5, 10, 15, 20, 25, 30, 35, 40, 45], d3.format("d"));
yLabel(p5, 254).text("Optical Depth");
markerLegend(p5, 1908, sy(4862), 2050, ["D98 OD", "Z-LWP Nd"]);
</script>
</body>
</html>
